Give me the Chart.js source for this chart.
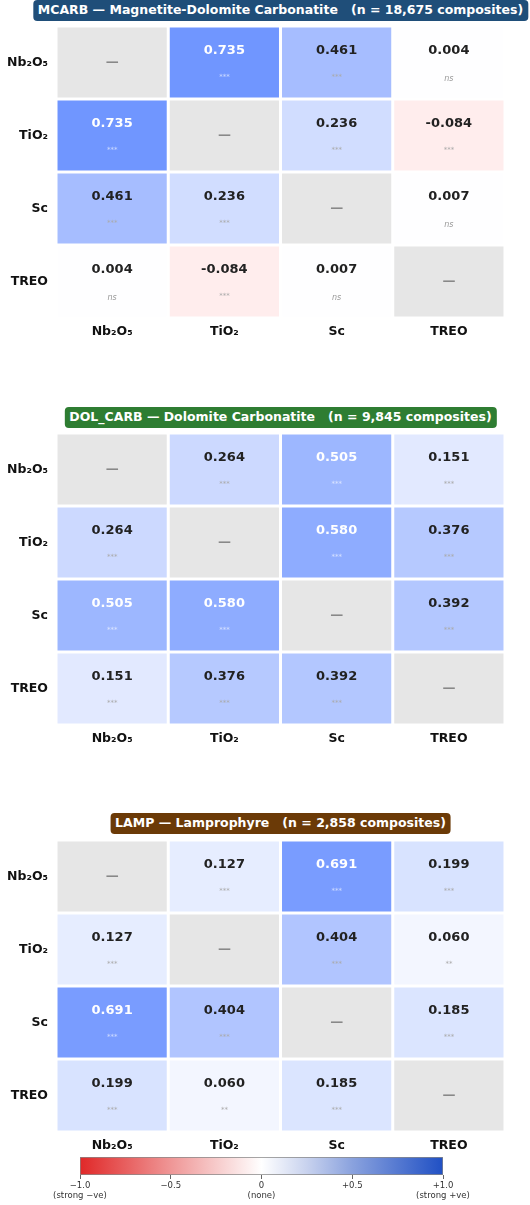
<!DOCTYPE html>
<html>
<head>
<meta charset="utf-8">
<script src="https://cdn.jsdelivr.net/npm/chart.js@4.4.1/dist/chart.umd.min.js"></script>
<style>
  body { margin: 0; background: #fff; font-family: "DejaVu Sans", sans-serif; }
  #wrap { position: relative; width: 530px; height: 1205px; overflow: hidden; }
  .panel { position: absolute; left: 0; width: 530px; height: 330px; }
  .badge {
    position: absolute; transform: translateX(-50%); left: 280.5px;
    color: #fff; font: bold 12.5px "DejaVu Sans", sans-serif; white-space: pre;
    padding: 3px 5px 4px 5px; border-radius: 4px; line-height: 14px;
  }
  #cbar { position: absolute; left: 0; top: 1140px; width: 530px; height: 65px; }
</style>
</head>
<body>
<div id="wrap">
  <div class="badge" style="top:0px;background:#1f4e79">MCARB — Magnetite-Dolomite Carbonatite   (n = 18,675 composites)</div>
  <div class="panel" style="top:20px"><canvas id="mcarbChart"></canvas></div>

  <div class="badge" style="top:407px;background:#2e7d32">DOL_CARB — Dolomite Carbonatite   (n = 9,845 composites)</div>
  <div class="panel" style="top:427px"><canvas id="dolChart"></canvas></div>

  <div class="badge" style="top:813px;background:#6b3a07">LAMP — Lamprophyre   (n = 2,858 composites)</div>
  <div class="panel" style="top:834px"><canvas id="lampChart"></canvas></div>

  <div id="cbar"><canvas id="cbarChart"></canvas></div>
</div>
<script>
// Variables (rows and columns are the same)
const variables = ['Nb₂O₅', 'TiO₂', 'Sc', 'TREO'];

// Correlation coefficients (null = diagonal)
const mcarbR = [
    [null, 0.735, 0.461, 0.004],
    [0.735, null, 0.236, -0.084],
    [0.461, 0.236, null, 0.007],
    [0.004, -0.084, 0.007, null]
];
const mcarbSig = [
    ['', '***', '***', 'ns'],
    ['***', '', '***', '***'],
    ['***', '***', '', 'ns'],
    ['ns', '***', 'ns', '']
];

const dolR = [
    [null, 0.264, 0.505, 0.151],
    [0.264, null, 0.580, 0.376],
    [0.505, 0.580, null, 0.392],
    [0.151, 0.376, 0.392, null]
];
const dolSig = [
    ['', '***', '***', '***'],
    ['***', '', '***', '***'],
    ['***', '***', '', '***'],
    ['***', '***', '***', '']
];

const lampR = [
    [null, 0.127, 0.691, 0.199],
    [0.127, null, 0.404, 0.060],
    [0.691, 0.404, null, 0.185],
    [0.199, 0.060, 0.185, null]
];
const lampSig = [
    ['', '***', '***', '***'],
    ['***', '', '***', '**'],
    ['***', '***', '', '***'],
    ['***', '**', '***', '']
];

// Colour bar ticks
const cbarTicks = [-1, -0.5, 0, 0.5, 1];
const cbarLabels = [['−1.0', '(strong −ve)'], ['−0.5'], ['0', '(none)'], ['+0.5'], ['+1.0', '(strong +ve)']];

const FONT = '"DejaVu Sans", sans-serif';

// red - white - blue
function cellColor(r) {
    if (r === null) return '#e6e6e6';
    const t = Math.min(1, Math.abs(r));
    let c;
    if (r >= 0) {
        if (t <= 0.75) c = [255 - 194 * t, 255 - 143 * t, 255];
        else {
            const k = (t - 0.75) / 0.25;
            c = [109.5 - 75.5 * k, 147.75 - 62.75 * k, 255 - 51 * k];
        }
    } else {
        if (t <= 0.75) c = [255, 255 - 215 * t, 255 - 215 * t];
        else {
            const k = (t - 0.75) / 0.25;
            c = [255 - 31 * k, 94 - 54 * k, 94 - 54 * k];
        }
    }
    return 'rgb(' + c.map(Math.round).join(',') + ')';
}

const cellText = {
    id: 'cellText',
    afterDatasetsDraw(chart, args, opts) {
        const ctx = chart.ctx;
        ctx.save();
        ctx.textAlign = 'center';
        ctx.textBaseline = 'middle';
        chart.data.datasets.forEach((ds, i) => {
            chart.getDatasetMeta(i).data.forEach((el, j) => {
                const r = opts.values[i][j];
                const sig = opts.sig[i][j];
                const cx = el.x;
                const cy = (el.y + el.base) / 2;
                if (r === null) {
                    ctx.fillStyle = '#888';
                    ctx.font = 'bold 13px ' + FONT;
                    ctx.fillText('—', cx, cy);
                    return;
                }
                const dark = Math.abs(r) >= 0.5;
                ctx.fillStyle = dark ? '#ffffff' : '#222222';
                ctx.font = 'bold 13px ' + FONT;
                ctx.fillText(r.toFixed(3), cx, cy - 12);
                if (sig === 'ns') {
                    ctx.font = 'italic 8px ' + FONT;
                    ctx.fillStyle = '#999';
                    ctx.fillText(sig, cx, cy + 16);
                } else {
                    ctx.font = '7px ' + FONT;
                    ctx.fillStyle = dark ? 'rgba(255,255,255,0.65)' : '#aaa';
                    ctx.fillText(sig, cx, cy + 15);
                }
            });
        });
        ctx.restore();
    }
};

function heatmap(id, values, sig) {
    new Chart(document.getElementById(id), {
        type: 'bar',
        data: {
            labels: variables,
            datasets: variables.map((row, i) => ({
                label: row,
                data: variables.map(() => [i + 0.02, i + 0.98]),
                backgroundColor: values[i].map(cellColor),
                grouped: false,
                barPercentage: 0.973,
                categoryPercentage: 1,
                borderWidth: 0
            }))
        },
        options: {
            responsive: true,
            maintainAspectRatio: false,
            animation: false,
            layout: { padding: { top: 6, right: 25, left: 0, bottom: 0 } },
            plugins: {
                legend: { display: false },
                tooltip: { enabled: false },
                cellText: { values: values, sig: sig }
            },
            scales: {
                x: {
                    grid: { display: false, drawTicks: false },
                    border: { display: false },
                    ticks: { color: '#111', padding: 6, font: { family: FONT, size: 12.5, weight: 'bold' } },
                    afterFit: (s) => { s.height = 32; s.paddingLeft = 0; s.paddingRight = 0; }
                },
                y: {
                    type: 'linear',
                    min: 0,
                    max: 4,
                    reverse: true,
                    grid: { display: false, drawTicks: false },
                    border: { display: false },
                    afterBuildTicks: (s) => { s.ticks = variables.map((v, i) => ({ value: i + 0.5 })); },
                    ticks: {
                        color: '#111', padding: 8,
                        font: { family: FONT, size: 12.5, weight: 'bold' },
                        callback: (v) => variables[Math.floor(v)]
                    },
                    afterFit: (s) => { s.width = 56; s.paddingTop = 0; s.paddingBottom = 0; }
                }
            }
        },
        plugins: [cellText]
    });
}

heatmap('mcarbChart', mcarbR, mcarbSig);
heatmap('dolChart', dolR, dolSig);
heatmap('lampChart', lampR, lampSig);

// Colour bar
new Chart(document.getElementById('cbarChart'), {
    type: 'bar',
    data: {
        labels: ['r'],
        datasets: [{
            data: [[cbarTicks[0], cbarTicks[cbarTicks.length - 1]]],
            backgroundColor: (c) => {
                const area = c.chart.chartArea;
                if (!area) return '#fff';
                const g = c.chart.ctx.createLinearGradient(area.left, 0, area.right, 0);
                g.addColorStop(0, '#e02828');
                g.addColorStop(0.25, '#ef9696');
                g.addColorStop(0.5, '#ffffff');
                g.addColorStop(0.625, '#c8d2ee');
                g.addColorStop(0.75, '#8aa2de');
                g.addColorStop(1, '#2050c4');
                return g;
            },
            borderColor: '#888',
            borderWidth: 1,
            borderSkipped: false,
            barPercentage: 1,
            categoryPercentage: 1
        }]
    },
    options: {
        indexAxis: 'y',
        responsive: true,
        maintainAspectRatio: false,
        animation: false,
        layout: { padding: { left: 80, right: 87, top: 17, bottom: 0 } },
        plugins: { legend: { display: false }, tooltip: { enabled: false } },
        scales: {
            y: { display: false },
            x: {
                type: 'linear',
                min: -1,
                max: 1,
                afterBuildTicks: (s) => { s.ticks = cbarTicks.map(v => ({ value: v })); },
                grid: { drawOnChartArea: false, drawTicks: true, tickLength: 4, color: '#666' },
                border: { display: false },
                ticks: {
                    color: '#333', padding: 1, maxRotation: 0,
                    font: { family: FONT, size: 8.5, lineHeight: 1.25 },
                    callback: (v) => cbarLabels[cbarTicks.indexOf(v)]
                },
                afterFit: (s) => { s.height = 30; }
            }
        }
    }
});
</script>
</body>
</html>
